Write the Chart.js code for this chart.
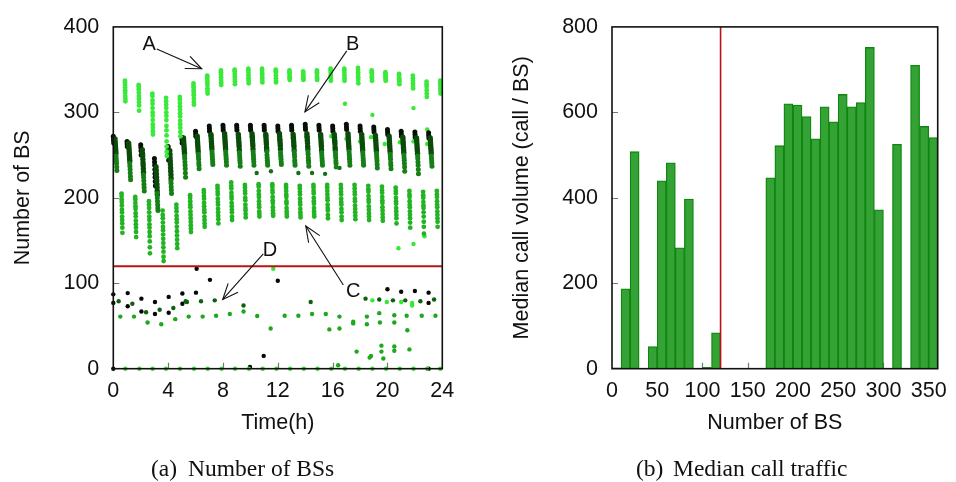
<!DOCTYPE html>
<html><head><meta charset="utf-8">
<script src="https://cdn.jsdelivr.net/npm/chart.js@4.4.1/dist/chart.umd.min.js"></script>
<style>
html,body{margin:0;padding:0;background:#fff;}
#wrap{position:relative;width:956px;height:482px;overflow:hidden;background:#fff;}
.box{position:absolute;top:0;width:478px;height:482px;}
.cap{position:absolute;top:456px;font-family:"Liberation Serif","Times New Roman",serif;font-size:23.5px;line-height:24px;color:#111;white-space:nowrap;}
</style></head><body>
<div id="wrap">
<div class="box" style="left:0"><canvas id="c1" width="478" height="482"></canvas></div>
<div class="box" style="left:478px"><canvas id="c2" width="478" height="482"></canvas></div>
<span class="cap" style="left:151px">(a)</span><span class="cap" style="left:188px">Number of BSs</span>
<span class="cap" style="left:636px">(b)</span><span class="cap" style="left:673px">Median call traffic</span>
</div>
<script>
// ---------------- data: left panel (Number of BS vs time) ----------------
// each band: one list of readings per hour 0..23
const bandA = [ // bright green, sampled late in the hour
 [337,335,332,329,326,323,319,316,313],
 [332,330,327,323,319,316,312,308,302],
 [322,319,314,310,305,300,296,291,286,282,278,274],
 [317,313,309,305,300,296,291,284,279,273,266,260,254,249],
 [318,315,311,307,303,299,295,290,286,282,277,272],
 [334,331,329,326,323,320,316,312,309],
 [343,341,338,335,332,328,325,322],
 [349,347,344,341,338,335,332],
 [350,348,345,342,339,336,333],
 [351,349,346,343,340,337,334],
 [351,349,346,344,341,338,335],
 [350,348,346,343,340,337,335],
 [349,347,345,342,340,338],
 [348,346,344,342,340,338],
 [349,347,345,342,340,338],
 [351,349,346,343,340,337],
 [351,349,346,343,340,337],
 [352,350,347,344,341,338,334],
 [349,347,345,342,340,337],
 [347,345,343,341,339,337],
 [345,343,340,338,336,333],
 [343,340,337,334,331,328],
 [336,333,330,326,322,318],
 [337,334,331,328,325,322]
];
const bandBtop = [ // black, start of the hour
 [272,270,267,264],[266,263,260],[262,259,255,250],[246,242,238,233,228,224,219,214],
 [260,257,253,249,244],[271,268,264],[278,275,272],[284,281,278],[285,282,279],
 [285,282,279],[285,282,279],[285,282,279],[284,281,278],[285,282,279],[286,283,280],
 [285,282,279],[284,281,278],[286,283,280],[284,281,278],[283,280,277],[280,277,274],
 [278,275,272],[277,274,271],[276,273,270]
];
const bandBdark = [ // dark green
 [269,266,263,261,258,255,252],[264,261,258,255,252,249,246,243],[256,252,249,245,241,238,234,230],
 [236,232,228,224,220,216,212,208,204],[255,251,247,243,239,235,231,227,223],[270,267,264,261,258,255,252],
 [272,269,266,263,260,257,254],[274,272,269,266,263,260,257],[275,272,269,266,263,260,257],
 [274,271,269,266,263,260,256],[275,272,270,267,264,261,257],[274,272,269,266,263,259,256],
 [275,272,269,267,264,261,257],[274,271,269,266,263,260,256],[275,272,270,267,264,260,257],
 [274,272,269,266,263,260,256],[274,271,268,266,263,259,256],[275,272,269,266,263,260,257],
 [274,271,268,265,262,259,256],[273,270,267,264,261,258,255],[272,269,266,263,260,257,254],
 [271,268,265,262,259,256,253],[270,267,264,261,258,255,252],[270,267,264,261,258,255,252]
];
const bandBmid = [ // mid green tail of the dark band
 [249,246,243,240,236,232],[240,237,233,229,225,221],[227,224,220,216,212,208],
 [205,200,196,192,188,185],[220,217,213,209,205],[249,246,242,238,234,229,224],
 [251,248,245,241,238,234],[254,251,248,245,242,239],[254,251,248,245,242,238],
 [253,250,247,244,241,237],[254,251,248,245,242,238],[254,250,247,244,241,238],
 [253,250,248,245,242,239],[254,251,248,244,241,238],[254,251,247,244,241,237],
 [253,250,247,244,241,238],[253,250,247,243,240,236],[254,251,248,245,242,238],
 [253,250,247,244,241,238],[252,249,246,243,239,235],[251,248,245,241,238,234],
 [250,247,244,240,236,231],[249,246,242,238,233,228],[249,246,243,240,237]
];
const bandC = [ // green, middle of the hour
 [205,202,198,195,191,186,183,178,174,170,165,159],
 [201,198,194,190,187,182,178,173,169,165,160,154],
 [196,192,188,183,178,174,169,165,160,155,149,142,135],
 [185,180,176,171,166,162,157,152,147,142,137,131,126],
 [192,188,184,179,175,171,166,161,156,151,146,141],
 [203,200,196,192,189,184,180,176,172,168,164,160],
 [209,206,202,199,194,190,186,183,178,174,170,166],
 [214,211,207,204,199,195,192,187,183,179,175,170],
 [218,214,211,206,202,199,194,190,186,183,178,174],
 [215,212,208,205,200,197,192,188,185,181,177],
 [216,213,208,204,201,196,192,189,184,181,178],
 [216,213,209,206,201,197,194,189,185,182,179],
 [215,212,208,204,201,196,193,188,184,181,178],
 [214,211,207,204,199,195,192,187,183,180,177],
 [215,212,208,205,200,196,193,188,184,181,178],
 [215,212,208,204,200,197,192,188,185,180,176],
 [215,211,207,204,199,195,192,187,183,178,174],
 [215,211,207,204,199,196,191,187,183,179,175],
 [214,210,207,202,198,195,190,186,182,178,174],
 [213,209,206,201,197,194,189,185,181,177,173],
 [212,208,205,200,196,193,188,184,180,176,170],
 [208,204,201,196,192,189,184,180,176,171,165],
 [207,203,200,195,191,188,183,178,172,166,158],
 [208,204,201,196,192,189,184,180,176,172,166]
];
// sampling instant inside each hour (hours) for every band
const OFFSET_A = 0.85, OFFSET_BTOP = 0.0, OFFSET_BDARK = 0.12, OFFSET_BMID = 0.2, OFFSET_C = 0.6;
// individual points [time h, number of BS]
const strayLime = [[16.9,310],[18.9,297],[21.9,305],[15.9,272],[17.0,269],[18.0,266],[18.8,271],[19.8,263],
 [20.9,265],[21.9,266],[22.9,280],[22.9,263],[20.8,141],[21.9,146],[22.7,155],[11.67,117],
 [18.9,80],[19.95,78],[21.0,78],[21.8,74],[21.8,77]];
const strayDark = [[10.46,229],[11.5,231],[13.5,229],[14.5,229],[15.45,228],[16.5,235]];
const lowBlack = [[0,87],[0,77],[1.05,88.5],[1.05,73],[2.05,82],[2.05,67],[3.04,78],[3.04,64],[4.04,84],
 [4.04,65.5],[5.04,88],[5.04,76],[6.03,89],[6.08,117],[7.05,104],[12.0,103],[10.97,15],[9.97,2],
 [20.0,93],[21.0,90],[22.0,91],[23.0,89],[23.0,77],[0,0],[23.0,0]];
const lowDark = [[0.39,79],[1.39,76],[2.39,66],[3.38,69],[4.38,71],[5.28,79],[5.37,78],[6.4,79],[7.4,80],
 [9.5,74],[14.4,78],[18.4,82],[19.4,81],[20.4,80],[21.3,80],[22.4,79],[23.4,81]];
const lowGreen = [[0.51,61],[1.51,61],[2.5,54],[3.5,52],[4.52,58],[5.5,61],[6.52,61],[7.5,62],[8.5,64],
 [9.5,67],[10.5,61.7],[11.48,47],[12.5,62],[13.5,62],[14.5,64],[15.5,64],[15.76,46],[16.5,61],[16.5,47],
 [16.4,4],[17.5,55],[17.5,53],[17.75,20],[18.5,61],[18.5,52],[18.7,13],[18.8,15],[19.4,65],[19.45,54],
 [19.56,27],[19.56,20],[19.7,12],[20.5,62.5],[20.5,54],[20.5,26],[20.5,21],[21.4,62],[21.45,45],
 [21.6,22.6],[22.5,62],[23.5,62]];
const zeroTimes = [0.88,1.9,2.87,3.84,4.87,5.89,6.89,7.9,8.88,9.9,10.9,11.9,12.9,13.9,14.9,15.9,16.9,
 17.9,18.9,19.9,20.9,21.9,22.9,23.85];
const THRESHOLD_BS = 120;
const timeTicks = [0,4,8,12,16,20,24];
const bsTicks = [0,100,200,300,400];
const arrowNotes = [
 {label:'A', at:[2.61,379], from:[3.17,374], to:[6.45,351]},
 {label:'B', at:[17.46,380], from:[17.03,372], to:[13.98,300.5]},
 {label:'C', at:[17.5,90.5], from:[16.78,98], to:[14.04,167]},
 {label:'D', at:[11.43,138], from:[10.94,134.5], to:[7.98,81]}
];

// ---------------- data: right panel (median call volume per BS bin) ----------------
const binCenters = [5,15,25,45,55,65,75,85,105,115,175,185,195,205,215,225,235,245,255,265,275,285,295,315,335,345,355];
const medianCalls = [2,187,508,52,440,482,283,397,3,84,447,522,620,617,590,538,613,578,642,613,623,752,372,525,710,567,541];
const bsAxisTicks = [0,50,100,150,200,250,300,350];
const callTicks = [0,200,400,600,800];

// ---------------- helpers ----------------
const FONT = "'Liberation Sans', Arial, Helvetica, sans-serif";
Chart.defaults.font.family = FONT;
Chart.defaults.color = '#111';
function columnPoints(cols, offset, step){
  const pts = [];
  cols.forEach((vals, h) => vals.forEach((v, j) => pts.push({x: h + offset + j*step, y: v})));
  return pts;
}
const pairs = a => a.map(p => ({x:p[0], y:p[1]}));
function scatterSet(data, color, r){
  return {data, backgroundColor: color, borderWidth: 0, pointRadius: r || 2.2, pointHoverRadius: 0, clip: 4};
}
function drawInTicks(ctx, sx, sy, xs, ys, ca){
  ctx.save(); ctx.strokeStyle = '#777'; ctx.lineWidth = 1.2;
  ctx.beginPath();
  ys.forEach(v => { const y = Math.round(sy.getPixelForValue(v))+0.5; ctx.moveTo(ca.left, y); ctx.lineTo(ca.left+6, y); });
  xs.forEach(v => { const x = Math.round(sx.getPixelForValue(v))+0.5; ctx.moveTo(x, ca.bottom); ctx.lineTo(x, ca.bottom-6); });
  ctx.stroke(); ctx.restore();
}
function drawFrame(ctx, ca){
  ctx.save(); ctx.strokeStyle = '#111'; ctx.lineWidth = 1.6;
  ctx.strokeRect(ca.left, ca.top, ca.right-ca.left, ca.bottom-ca.top); ctx.restore();
}
function drawArrow(ctx, x1, y1, x2, y2){
  ctx.beginPath(); ctx.moveTo(x1,y1); ctx.lineTo(x2,y2); ctx.stroke();
  const ang = Math.atan2(y2-y1, x2-x1), L = 17, a = 0.4;
  ctx.beginPath();
  ctx.moveTo(x2 - L*Math.cos(ang-a), y2 - L*Math.sin(ang-a));
  ctx.lineTo(x2, y2);
  ctx.lineTo(x2 - L*Math.cos(ang+a), y2 - L*Math.sin(ang+a));
  ctx.stroke();
}
const tickFont = {size: 21.5, family: FONT};
const titleFont = {size: 21.5, family: FONT};

// ---------------- left chart ----------------
const leftPlugin = {
  id: 'leftDeco',
  afterDatasetsDraw(chart){
    const {ctx, chartArea: ca, scales: {x, y}} = chart;
    ctx.save();
    ctx.strokeStyle = '#b81414'; ctx.lineWidth = 2;
    const ty = y.getPixelForValue(THRESHOLD_BS);
    ctx.beginPath(); ctx.moveTo(ca.left, ty); ctx.lineTo(ca.right, ty); ctx.stroke();
    ctx.restore();
    drawInTicks(ctx, x, y, timeTicks.slice(1,-1), bsTicks.slice(1,-1), ca);
    drawFrame(ctx, ca);
    ctx.save();
    ctx.strokeStyle = '#111'; ctx.lineWidth = 1.1; ctx.fillStyle = '#111';
    ctx.font = '20px ' + FONT; ctx.textAlign = 'center'; ctx.textBaseline = 'middle';
    arrowNotes.forEach(n => {
      drawArrow(ctx, x.getPixelForValue(n.from[0]), y.getPixelForValue(n.from[1]),
                     x.getPixelForValue(n.to[0]), y.getPixelForValue(n.to[1]));
      ctx.fillText(n.label, x.getPixelForValue(n.at[0]), y.getPixelForValue(n.at[1]));
    });
    ctx.restore();
  }
};
new Chart(document.getElementById('c1'), {
  type: 'scatter',
  data: { datasets: [
    scatterSet(pairs(lowGreen), '#1ea81e'),
    scatterSet(pairs(lowDark), '#0d600d'),
    scatterSet(zeroTimes.map(t => ({x:t, y:0})), '#33dd33'),
    scatterSet(columnPoints(bandC, OFFSET_C, 0.006), '#22b422', 2.4),
    scatterSet(columnPoints(bandA, OFFSET_A, 0.004), '#3aea3a', 2.4),
    scatterSet(columnPoints(bandBmid, OFFSET_BMID, 0.012), '#177f17', 2.5),
    scatterSet(columnPoints(bandBdark, OFFSET_BDARK, 0.012), '#0b4c0b', 2.7),
    scatterSet(pairs(strayDark), '#127212'),
    scatterSet(columnPoints(bandBtop, OFFSET_BTOP, 0.01), '#061006', 2.5),
    scatterSet(pairs(lowBlack), '#050805'),
    scatterSet(pairs(strayLime), '#35e835')
  ]},
  options: {
    responsive: false, animation: false, events: [],
    layout: {padding: {left: 0, top: 20.7, right: 35.7, bottom: 0}},
    plugins: {legend: {display: false}, tooltip: {enabled: false}},
    scales: {
      x: {type: 'linear', min: 0, max: 24,
          afterBuildTicks: s => { s.ticks = timeTicks.map(v => ({value: v})); },
          afterFit: s => { s.height = 113.3; },
          grid: {display: false, drawTicks: false}, border: {display: false},
          ticks: {font: tickFont, padding: 9, maxRotation: 0, autoSkip: false, color: '#111'},
          title: {display: true, text: 'Time(h)', font: titleFont, color: '#111', padding: {top: 0, bottom: 46.4}}},
      y: {type: 'linear', min: 0, max: 400,
          afterBuildTicks: s => { s.ticks = bsTicks.map(v => ({value: v})); },
          afterFit: s => { s.width = 113.3; },
          grid: {display: false, drawTicks: false}, border: {display: false},
          ticks: {font: tickFont, padding: 14, color: '#111'},
          title: {display: true, text: 'Number of BS', font: titleFont, color: '#111', padding: {top: 10.4, bottom: 0}}}
    }
  },
  plugins: [leftPlugin]
});

// ---------------- right chart ----------------
const rightPlugin = {
  id: 'rightDeco',
  beforeDatasetsDraw(chart){
    const {ctx, chartArea: ca, scales: {x, y}} = chart;
    drawInTicks(ctx, x, y, bsAxisTicks.slice(1), callTicks.slice(1,-1), ca);
  },
  afterDatasetsDraw(chart){
    const {ctx, chartArea: ca, scales: {x}} = chart;
    ctx.save(); ctx.strokeStyle = '#b81414'; ctx.lineWidth = 1.6;
    const tx = x.getPixelForValue(THRESHOLD_BS);
    ctx.beginPath(); ctx.moveTo(tx, ca.top); ctx.lineTo(tx, ca.bottom); ctx.stroke(); ctx.restore();
    drawFrame(ctx, ca);
  }
};
new Chart(document.getElementById('c2'), {
  type: 'bar',
  data: { datasets: [{
    data: binCenters.map((c, i) => ({x: c, y: medianCalls[i]})),
    backgroundColor: '#35a235', borderColor: '#0f870f', borderWidth: 1.3,
    barPercentage: 1, categoryPercentage: 1, grouped: false
  }]},
  options: {
    responsive: false, animation: false, events: [],
    layout: {padding: {left: 0, top: 20.7, right: 14.3, bottom: 0}},
    plugins: {legend: {display: false}, tooltip: {enabled: false}},
    scales: {
      x: {type: 'linear', min: 0, max: 360, offset: false,
          afterBuildTicks: s => { s.ticks = bsAxisTicks.map(v => ({value: v})); },
          afterFit: s => { s.height = 113.3; },
          grid: {display: false, drawTicks: false, offset: false}, border: {display: false},
          ticks: {font: tickFont, padding: 9, maxRotation: 0, autoSkip: false, color: '#111'},
          title: {display: true, text: 'Number of BS', font: titleFont, color: '#111', padding: {top: 0, bottom: 46.4}}},
      y: {type: 'linear', min: 0, max: 800,
          afterBuildTicks: s => { s.ticks = callTicks.map(v => ({value: v})); },
          afterFit: s => { s.width = 134; },
          grid: {display: false, drawTicks: false}, border: {display: false},
          ticks: {font: tickFont, padding: 14, color: '#111'},
          title: {display: true, text: 'Median call volume (call / BS)', font: titleFont, color: '#111', padding: {top: 31.4, bottom: 0}}}
    }
  },
  plugins: [rightPlugin]
});
</script>
</body></html>
